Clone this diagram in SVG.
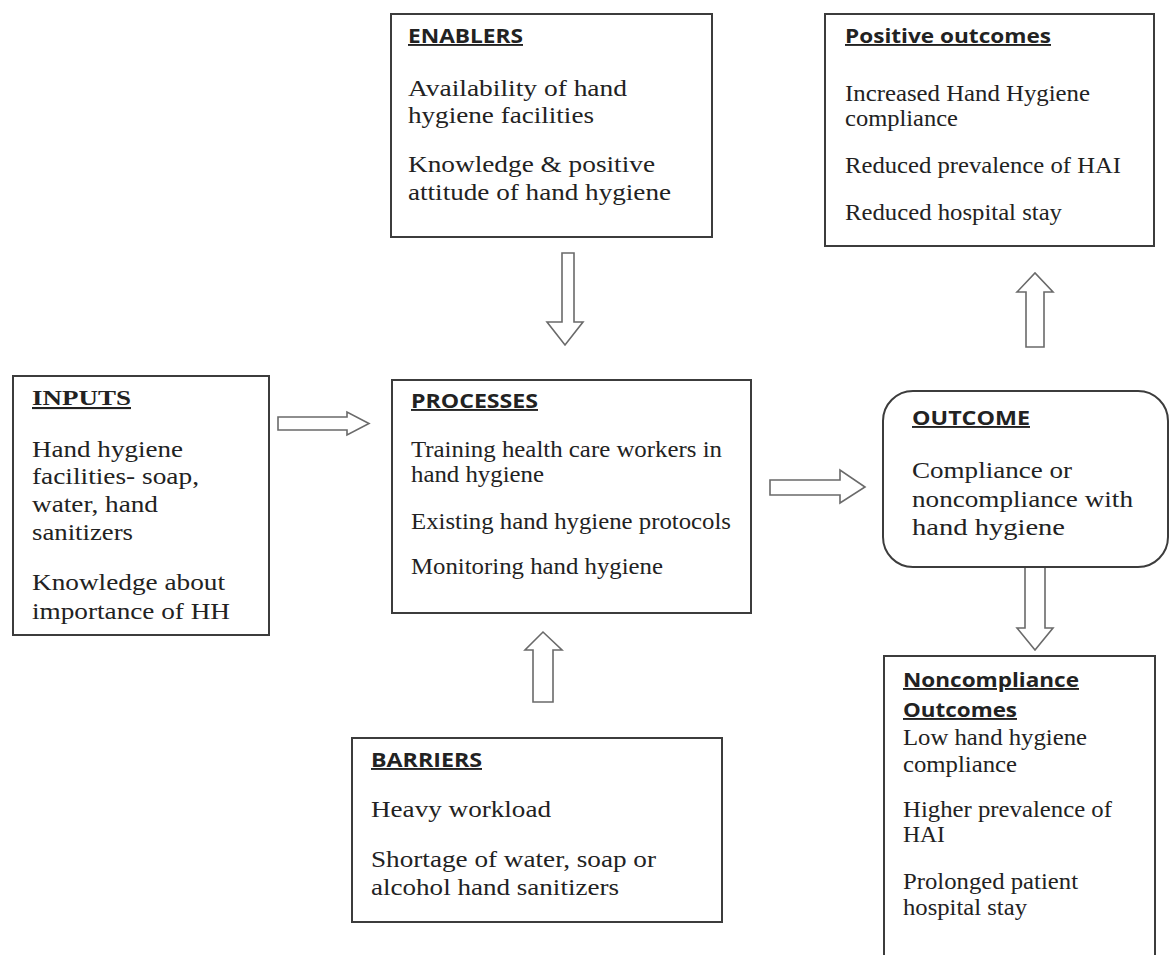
<svg xmlns="http://www.w3.org/2000/svg" width="1170" height="955" viewBox="0 0 1170 955">
<style>
.box{fill:#fff;stroke:#3c3c3c;stroke-width:2}
.arr{fill:#fff;stroke:#6a6a6a;stroke-width:1.6;stroke-linejoin:miter}
.h{font-family:"Open Sans","Liberation Sans",sans-serif;font-weight:bold;font-size:19px;fill:#222;text-decoration:underline}
.hs{font-family:"Liberation Serif",serif;font-weight:bold;font-size:21px;fill:#222;text-decoration:underline}
.t{font-family:"Liberation Serif",serif;font-size:23px;fill:#222}
</style>
<rect width="1170" height="955" fill="#fff"/>
<g id="enablers">
<rect class="box" x="391" y="14" width="321" height="223"/>
<text class="h" x="408" y="43" textLength="115" lengthAdjust="spacingAndGlyphs">ENABLERS</text>
<text class="t" x="408" y="96" textLength="219" lengthAdjust="spacingAndGlyphs">Availability of hand</text>
<text class="t" x="408" y="123" textLength="186" lengthAdjust="spacingAndGlyphs">hygiene facilities</text>
<text class="t" x="408" y="172" textLength="247" lengthAdjust="spacingAndGlyphs">Knowledge &amp; positive</text>
<text class="t" x="408" y="200" textLength="263" lengthAdjust="spacingAndGlyphs">attitude of hand hygiene</text>
</g>
<g id="positive">
<rect class="box" x="825" y="14" width="329" height="232"/>
<text class="h" x="845" y="43" textLength="206" lengthAdjust="spacingAndGlyphs">Positive outcomes</text>
<text class="t" x="845" y="101" textLength="245" lengthAdjust="spacingAndGlyphs">Increased Hand Hygiene</text>
<text class="t" x="845" y="126" textLength="113" lengthAdjust="spacingAndGlyphs">compliance</text>
<text class="t" x="845" y="173" textLength="276" lengthAdjust="spacingAndGlyphs">Reduced prevalence of HAI</text>
<text class="t" x="845" y="220" textLength="217" lengthAdjust="spacingAndGlyphs">Reduced hospital stay</text>
</g>
<g id="inputs">
<rect class="box" x="13" y="376" width="256" height="259"/>
<text class="hs" x="32" y="405" textLength="99" lengthAdjust="spacingAndGlyphs">INPUTS</text>
<text class="t" x="32" y="457" textLength="151" lengthAdjust="spacingAndGlyphs">Hand hygiene</text>
<text class="t" x="32" y="484" textLength="167" lengthAdjust="spacingAndGlyphs">facilities- soap,</text>
<text class="t" x="32" y="512" textLength="126" lengthAdjust="spacingAndGlyphs">water, hand</text>
<text class="t" x="32" y="540" textLength="101" lengthAdjust="spacingAndGlyphs">sanitizers</text>
<text class="t" x="32" y="590" textLength="193" lengthAdjust="spacingAndGlyphs">Knowledge about</text>
<text class="t" x="32" y="619" textLength="198" lengthAdjust="spacingAndGlyphs">importance of HH</text>
</g>
<g id="processes">
<rect class="box" x="392" y="380" width="359" height="233"/>
<text class="h" x="411" y="408" textLength="127" lengthAdjust="spacingAndGlyphs">PROCESSES</text>
<text class="t" x="411" y="457" textLength="311" lengthAdjust="spacingAndGlyphs">Training health care workers in</text>
<text class="t" x="411" y="482" textLength="133" lengthAdjust="spacingAndGlyphs">hand hygiene</text>
<text class="t" x="411" y="529" textLength="320" lengthAdjust="spacingAndGlyphs">Existing hand hygiene protocols</text>
<text class="t" x="411" y="574" textLength="252" lengthAdjust="spacingAndGlyphs">Monitoring hand hygiene</text>
</g>
<g id="outcome">
<rect class="box" x="883" y="391" width="285" height="176" rx="30" ry="30"/>
<text class="h" x="912" y="425" textLength="118" lengthAdjust="spacingAndGlyphs">OUTCOME</text>
<text class="t" x="912" y="478" textLength="160" lengthAdjust="spacingAndGlyphs">Compliance or</text>
<text class="t" x="912" y="507" textLength="221" lengthAdjust="spacingAndGlyphs">noncompliance with</text>
<text class="t" x="912" y="535" textLength="153" lengthAdjust="spacingAndGlyphs">hand hygiene</text>
</g>
<g id="barriers">
<rect class="box" x="352" y="738" width="370" height="184"/>
<text class="h" x="371" y="767" textLength="111" lengthAdjust="spacingAndGlyphs">BARRIERS</text>
<text class="t" x="371" y="817" textLength="180" lengthAdjust="spacingAndGlyphs">Heavy workload</text>
<text class="t" x="371" y="867" textLength="285" lengthAdjust="spacingAndGlyphs">Shortage of water, soap or</text>
<text class="t" x="371" y="895" textLength="248" lengthAdjust="spacingAndGlyphs">alcohol hand sanitizers</text>
</g>
<g id="noncompliance">
<path class="box" d="M884,960 V656 H1155 V960"/>
<text class="h" x="903" y="687" textLength="176" lengthAdjust="spacingAndGlyphs">Noncompliance</text>
<text class="h" x="903" y="717" textLength="114" lengthAdjust="spacingAndGlyphs">Outcomes</text>
<text class="t" x="903" y="745" textLength="184" lengthAdjust="spacingAndGlyphs">Low hand hygiene</text>
<text class="t" x="903" y="772" textLength="114" lengthAdjust="spacingAndGlyphs">compliance</text>
<text class="t" x="903" y="817" textLength="209" lengthAdjust="spacingAndGlyphs">Higher prevalence of</text>
<text class="t" x="903" y="842" textLength="42" lengthAdjust="spacingAndGlyphs">HAI</text>
<text class="t" x="903" y="889" textLength="175" lengthAdjust="spacingAndGlyphs">Prolonged patient</text>
<text class="t" x="903" y="915" textLength="124" lengthAdjust="spacingAndGlyphs">hospital stay</text>
</g>
<g id="connectors">
<path class="arr" d="M562,253 H574 V322 H583 L565,345 L547,322 H562 Z"/>
<path class="arr" d="M1026,347 V292 H1017 L1035,273 L1053,292 H1044 V347 Z"/>
<path class="arr" d="M278,417 H347 V412 L369,423.5 L347,435 V430 H278 Z"/>
<path class="arr" d="M770,480 H840 V470 L865,487 L840,503 V495 H770 Z"/>
<path class="arr" d="M1025,568 V628 H1017 L1035,650 L1053,628 H1045 V568"/>
<path class="arr" d="M533,702 V650 H525 L543,632 L562,650 H553 V702 Z"/>
</g>
</svg>
